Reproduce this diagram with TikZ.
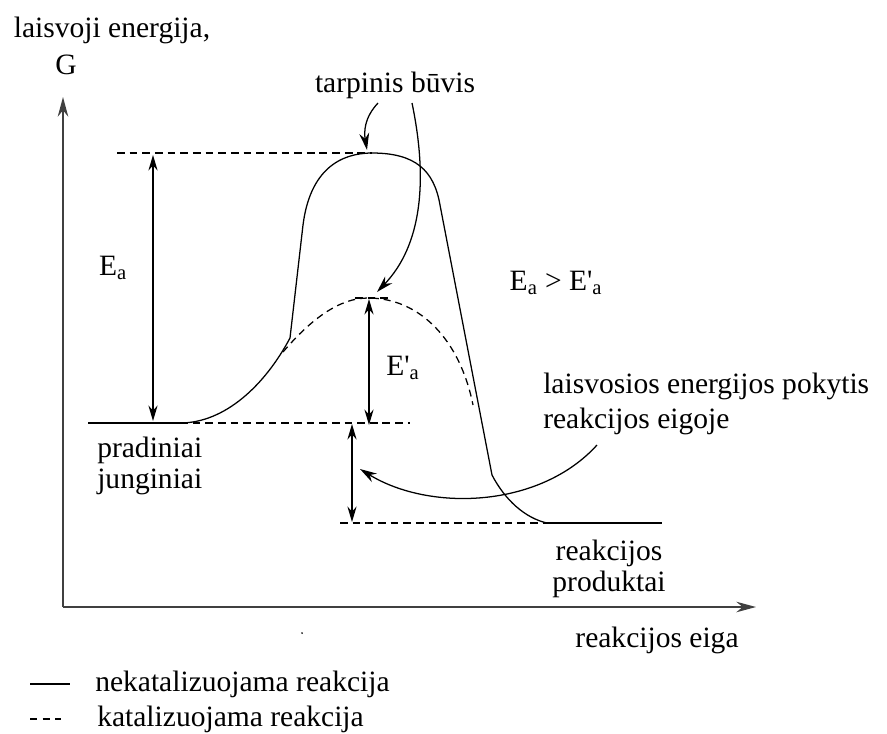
\documentclass[tikz,border=0pt]{standalone}
\usepackage{fontspec}
\setmainfont{Liberation Serif}
\usepackage{tikz}
\usetikzlibrary{arrows.meta}

\newcommand{\primea}{E\textquotesingle\textsubscript{a}}

\tikzset{
  lbl/.style={font=\fontsize{21}{22}\selectfont, inner sep=0pt, align=center},
  axis/.style={-{Stealth[length=14pt,width=7.5pt]}, line width=1.1pt, draw=black!75},
  curvesolid/.style={line width=0.9pt},
  curvedash/.style={line width=0.9pt, dash pattern=on 5pt off 3.5pt},
  levelline/.style={line width=0.9pt, dash pattern=on 5.5pt off 3.5pt},
  dimarrow/.style={{Stealth[length=11pt,width=6.5pt]}-{Stealth[length=11pt,width=6.5pt]}, line width=0.9pt},
  pointer/.style={-{Stealth[length=12pt,width=7pt]}, line width=0.9pt}
}

\begin{document}
\begin{tikzpicture}[x=0.025cm, y=-0.025cm]
  \useasboundingbox (0,0) rectangle (887,733);

  % axes
  \coordinate (orig) at (63,607);
  \coordinate (ytip) at (63,97);
  \coordinate (xtip) at (756,607);
  \draw[axis] (orig) -- (ytip);
  \draw[axis] (orig) -- (xtip);
  \node[lbl] (ylab) at (112,30) {laisvoji energija,};
  \node[lbl] (ylabg) at (66,65) {G};
  \node[lbl] (xlab) at (657,640) {reakcijos eiga};
  \fill (302,633) circle (0.7pt);

  % levels
  \coordinate (topl) at (117,153);
  \coordinate (peak) at (372,153);
  \coordinate (startl) at (88,423);
  \coordinate (start) at (180,423);
  \coordinate (startr) at (410,423);
  \coordinate (catl) at (355,298);
  \coordinate (catr) at (392,298);
  \coordinate (endl) at (340,523);
  \coordinate (endk) at (547,523);
  \coordinate (endr) at (662,523);
  \draw[levelline] (topl) -- (peak);
  \draw[curvesolid] (startl) -- (start);
  \draw[levelline] (start) -- (startr);
  \draw[levelline] (catl) -- (catr);
  \draw[levelline] (endl) -- (endk);
  \draw[curvesolid] (endk) -- (endr);

  % uncatalysed reaction
  \draw[curvesolid] (start) .. controls (225,423) and (265,385) .. (290,338)
    -- (303,225) .. controls (310,170) and (340,153) .. (peak)
    .. controls (415,153) and (434,170) .. (440,205)
    -- (492,475) .. controls (505,500) and (525,518) .. (endk);

  % catalysed reaction
  \draw[curvedash] (283,352) .. controls (312,318) and (340,298) .. (368,298)
    .. controls (420,298) and (460,340) .. (473,405);

  % energy differences
  \coordinate (eatop) at (153,155);
  \coordinate (eabot) at (153,421);
  \coordinate (ebtop) at (369,299);
  \coordinate (ebbot) at (369,425);
  \coordinate (dgtop) at (352,424);
  \coordinate (dgbot) at (352,522);
  \draw[dimarrow] (eatop) -- (eabot);
  \draw[dimarrow] (ebtop) -- (ebbot);
  \draw[dimarrow] (dgtop) -- (dgbot);
  \node[lbl] (ea) at (113,268) {E\textsubscript{a}};
  \node[lbl] (eb) at (403,368) {\primea};
  \node[lbl] (cmp) at (556,283) {E\textsubscript{a} > \primea};

  % labels with pointers
  \node[lbl] (trans) at (395,85) {tarpinis būvis};
  \coordinate (tp1) at (378,103);
  \coordinate (tp1e) at (367,150);
  \coordinate (tp2) at (412,103);
  \coordinate (tp2e) at (377,292);
  \draw[pointer] (tp1) .. controls (364,118) and (364,132) .. (tp1e);
  \draw[pointer] (tp2) .. controls (428,180) and (422,245) .. (tp2e);

  \node[lbl, anchor=west, align=left] (dg) at (543,404)
    {laisvosios energijos pokytis\\[3pt]reakcijos eigoje};
  \coordinate (dgp) at (597,445);
  \coordinate (dgpe) at (360,469);
  \draw[pointer] (dgp) .. controls (540,508) and (430,512) .. (dgpe);

  \node[lbl, anchor=west, align=left] (react) at (97,466) {pradiniai\\junginiai};
  \node[lbl] (prod) at (609,569) {reakcijos\\produktai};

  % legend
  \coordinate (lga) at (30,684);
  \coordinate (lgb) at (70,684);
  \coordinate (lgc) at (30,719);
  \coordinate (lgd) at (61,719);
  \draw[line width=1.1pt] (lga) -- (lgb);
  \draw[line width=1pt, dash pattern=on 5pt off 4pt] (lgc) -- (lgd);
  \node[lbl, anchor=west] (lgsolid) at (95,684) {nekatalizuojama reakcija};
  \node[lbl, anchor=west] (lgdash) at (97,719) {katalizuojama reakcija};
\end{tikzpicture}
\end{document}
